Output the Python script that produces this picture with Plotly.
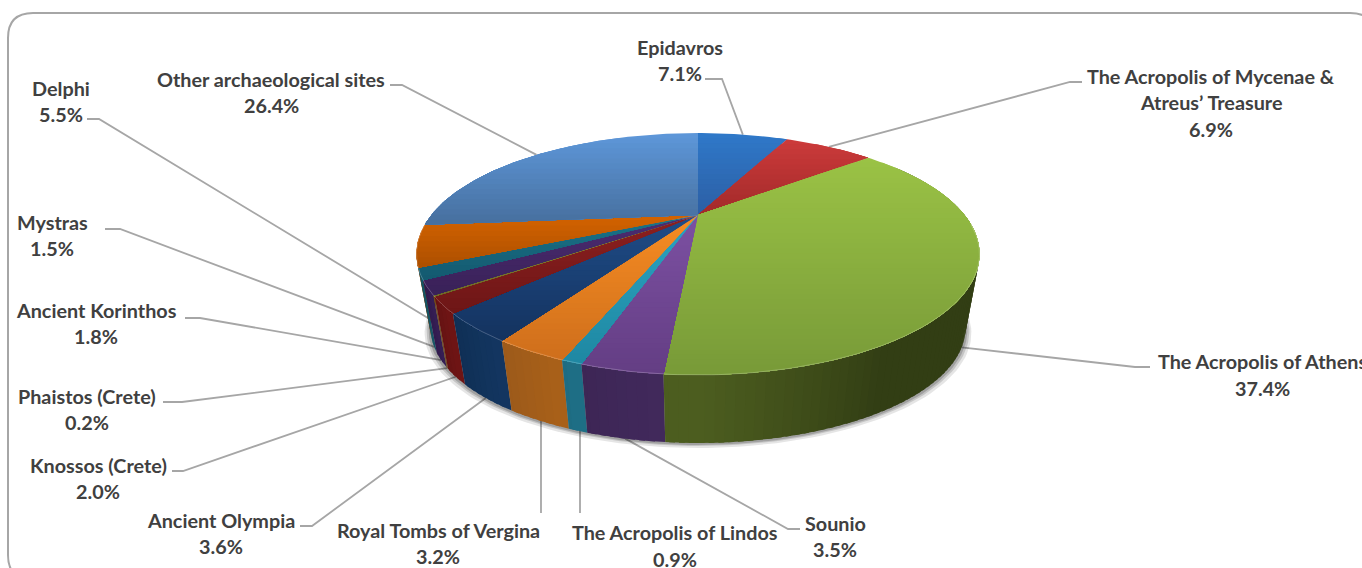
import math
import plotly.graph_objects as go

# ---- data ----
sites = ["Epidavros", "The Acropolis of Mycenae & Atreus’ Treasure", "The Acropolis of Athens",
         "Sounio", "The Acropolis of Lindos", "Royal Tombs of Vergina", "Ancient Olympia",
         "Knossos (Crete)", "Phaistos (Crete)", "Ancient Korinthos", "Mystras", "Delphi",
         "Other archaeological sites"]
shares = [7.1, 6.9, 37.4, 3.5, 0.9, 3.2, 3.6, 2.0, 0.2, 1.8, 1.5, 5.5, 26.4]

# ---- styles ----
top_hi = ["#2f78c8", "#cb3a3a", "#9ac245", "#7c50a2", "#2ba3c0", "#f68c22", "#1f4c88",
          "#8c2020", "#8a8a30", "#4c2c72", "#1a7389", "#d26200", "#5d96d8"]
top_lo = ["#2c5fa5", "#a32a2a", "#789a38", "#643e84", "#1f88a3", "#cf6f1c", "#14335f",
          "#6e1616", "#6e6a28", "#392158", "#145a70", "#ae5000", "#47709f"]
wall_a = ["#1d4a80", "#7a1f1f", "#4c5d1f", "#41295c", "#1f7088", "#aa6119", "#133661",
          "#701515", "#705020", "#361f56", "#155767", "#8a4200", "#2c5080"]
wall_b = ["#1d4a80", "#7a1f1f", "#323e14", "#3d2655", "#1d6a80", "#9c5a1a", "#0f2f55",
          "#641212", "#705020", "#30194c", "#124f5f", "#8a4200", "#2c5080"]
TEXT = "#404040"
LEAD = "#a6a6a6"

# ---- label layout ----
label_lines = [["Epidavros", "7.1%"], ["The Acropolis of Mycenae &", "Atreus’ Treasure", "6.9%"],
               ["The Acropolis of Athens", "37.4%"], ["Sounio", "3.5%"], ["The Acropolis of Lindos", "0.9%"],
               ["Royal Tombs of Vergina", "3.2%"], ["Ancient Olympia", "3.6%"], ["Knossos (Crete)", "2.0%"],
               ["Phaistos (Crete)", "0.2%"], ["Ancient Korinthos", "1.8%"], ["Mystras", "1.5%"],
               ["Delphi", "5.5%"], ["Other archaeological sites", "26.4%"]]
label_x = [680, 1211, 1262, 835, 675, 438, 221, 98, 87, 96, 52, 61, 271]
label_y = [46.5, 75.5, 361, 522.5, 532, 529.5, 519.5, 464.5, 395.5, 309.5, 221.5, 87.5, 78.5]
lead_start = [(705, 79), (1082, 82), (1150, 367), (800, 529), (580, 513), (541, 513), (300, 526),
              (172, 471), (163, 402), (185, 318), (105, 229), (87, 119), (390, 85)]
lead_elbow = [(722, 79), (1070, 82), (1135, 367), (788, 529), (580, 513), (541, 513), (312, 526),
              (183, 471), (182, 402), (200, 318), (120, 229), (99, 119), (402, 85)]

# ---- projection of the disc ----
CX, CY, A, B, K = 698.0, 215.0, 266.5, 108.4, 0.3224
F, Y0 = 0.95, 291.0


def top_pt(theta):
    u, v = math.sin(theta), -math.cos(theta)
    s = 1 / (1 - K * v)
    return CX + A * u * s, CY + B * v * s


def bot_pt(theta):
    x, y = top_pt(theta)
    return CX + (x - CX) * F, Y0 + (y - CY) * F


def mix(c1, c2, t):
    t = min(1.0, max(0.0, t))
    a = [int(c1[i:i + 2], 16) for i in (1, 3, 5)]
    b = [int(c2[i:i + 2], 16) for i in (1, 3, 5)]
    return "rgb(%d,%d,%d)" % tuple(round(p + (q - p) * t) for p, q in zip(a, b))


def clip_below(poly, y0):
    out = []
    for i, (x1, y1) in enumerate(poly):
        x2, y2 = poly[(i + 1) % len(poly)]
        if y1 >= y0:
            out.append((x1, y1))
        if (y1 >= y0) != (y2 >= y0):
            t = (y0 - y1) / (y2 - y1)
            out.append((x1 + (x2 - x1) * t, y0))
    return out


def polygon(pts, color, opacity=1.0):
    xs = [p[0] for p in pts] + [pts[0][0]]
    ys = [p[1] for p in pts] + [pts[0][1]]
    return go.Scatter(x=xs, y=ys, mode="lines", fill="toself", fillcolor=color,
                      line=dict(width=0, color=color), opacity=opacity,
                      hoverinfo="skip", showlegend=False)


total = sum(shares)
edges = [0.0]
for v in shares:
    edges.append(edges[-1] + v / total * 2 * math.pi)

fig = go.Figure()

# leader lines (below the pie)
for i in range(len(shares)):
    mid = (edges[i] + edges[i + 1]) / 2
    end = bot_pt(mid) if -math.cos(mid) > -0.05 else top_pt(mid)
    end_x = lead_elbow[i][0] if lead_start[i][0] == lead_elbow[i][0] else end[0]
    xs = [lead_start[i][0], lead_elbow[i][0], end_x]
    ys = [lead_start[i][1], lead_elbow[i][1], end[1]]
    fig.add_trace(go.Scatter(x=xs, y=ys, mode="lines", line=dict(color=LEAD, width=1.8),
                             hoverinfo="skip", showlegend=False))

# soft shadow under the wall
N = 240
for grow, dy, op in [(6, 5, 0.10), (4, 3, 0.14), (2, 2, 0.18)]:
    pts = []
    for j in range(N):
        x, y = bot_pt(j / N * 2 * math.pi)
        pts.append((CX + (x - CX) * (1 + grow / 270), y + dy))
    fig.add_trace(polygon(pts, "#000000", op))

# wall, far strips first
strips = []
for i in range(len(shares)):
    n = max(2, int((edges[i + 1] - edges[i]) / math.radians(1.5)))
    for j in range(n):
        t1 = edges[i] + (edges[i + 1] - edges[i]) * j / n
        t2 = edges[i] + (edges[i + 1] - edges[i]) * min(j + 1.6, n) / n
        tm = (t1 + t2) / 2
        if -math.cos(tm) < -0.5:
            continue
        strips.append((-math.cos(tm), i, t1, t2))
strips.sort()
for depth, i, t1, t2 in strips:
    f = ((t1 + t2) / 2 - edges[i]) / (edges[i + 1] - edges[i])
    if i == 2:  # the big slice is dark until about x = 820, then lightens to the left
        col = mix(wall_b[i], wall_a[i], (f - 0.74) / 0.22)
    else:
        col = mix(wall_a[i], wall_b[i], f)
    fig.add_trace(polygon([top_pt(t1), top_pt(t2), bot_pt(t2), bot_pt(t1)], col))

# top faces: each slice is painted in overlapping bands, top to bottom
for i in range(len(shares)):
    n = max(3, int((edges[i + 1] - edges[i]) / math.radians(1)))
    sector = [(CX, CY)] + [top_pt(edges[i] + (edges[i + 1] - edges[i]) * j / n) for j in range(n + 1)]
    ymin, ymax = min(p[1] for p in sector), max(p[1] for p in sector)
    bands = max(2, int((ymax - ymin) / 5))
    for b in range(bands):
        y0 = ymin + (ymax - ymin) * b / bands
        part = clip_below(sector, y0) if b else sector
        if len(part) >= 3:
            fig.add_trace(polygon(part, mix(top_hi[i], top_lo[i], b / max(1, bands - 1))))

# faint highlight on the front rim
rim = [top_pt(math.radians(d)) for d in range(95, 266)]
fig.add_trace(go.Scatter(x=[p[0] for p in rim], y=[p[1] for p in rim], mode="lines",
                         line=dict(color="rgba(255,255,255,0.22)", width=1),
                         hoverinfo="skip", showlegend=False))

# labels
GAP = 26.5
for lines, x, y in zip(label_lines, label_x, label_y):
    for k, line in enumerate(lines):
        fig.add_annotation(x=x, y=y + k * GAP, text=line, showarrow=False, xanchor="center",
                           yanchor="middle", font=dict(family="Lato", size=19.8, color=TEXT, weight="bold"))

R = 25
border = (f"M 8 {13 + R} Q 8 13 {8 + R} 13 L {1375 - R} 13 Q 1375 13 1375 {13 + R} "
          f"L 1375 {580 - R} Q 1375 580 {1375 - R} 580 L {8 + R} 580 Q 8 580 8 {580 - R} Z")
fig.update_layout(
    width=1362, height=568, margin=dict(l=0, r=0, t=0, b=0), paper_bgcolor="white", plot_bgcolor="white",
    showlegend=False,
    xaxis=dict(range=[0, 1362], visible=False, fixedrange=True),
    yaxis=dict(range=[568, 0], visible=False, fixedrange=True),
    shapes=[dict(type="path", path=border, xref="x", yref="y", line=dict(color="#a6a6a6", width=2), layer="below")],
)
fig.write_html("out.html", config={"displayModeBar": False},
               post_script="document.body.style.margin='0';document.documentElement.style.overflow='hidden';")
